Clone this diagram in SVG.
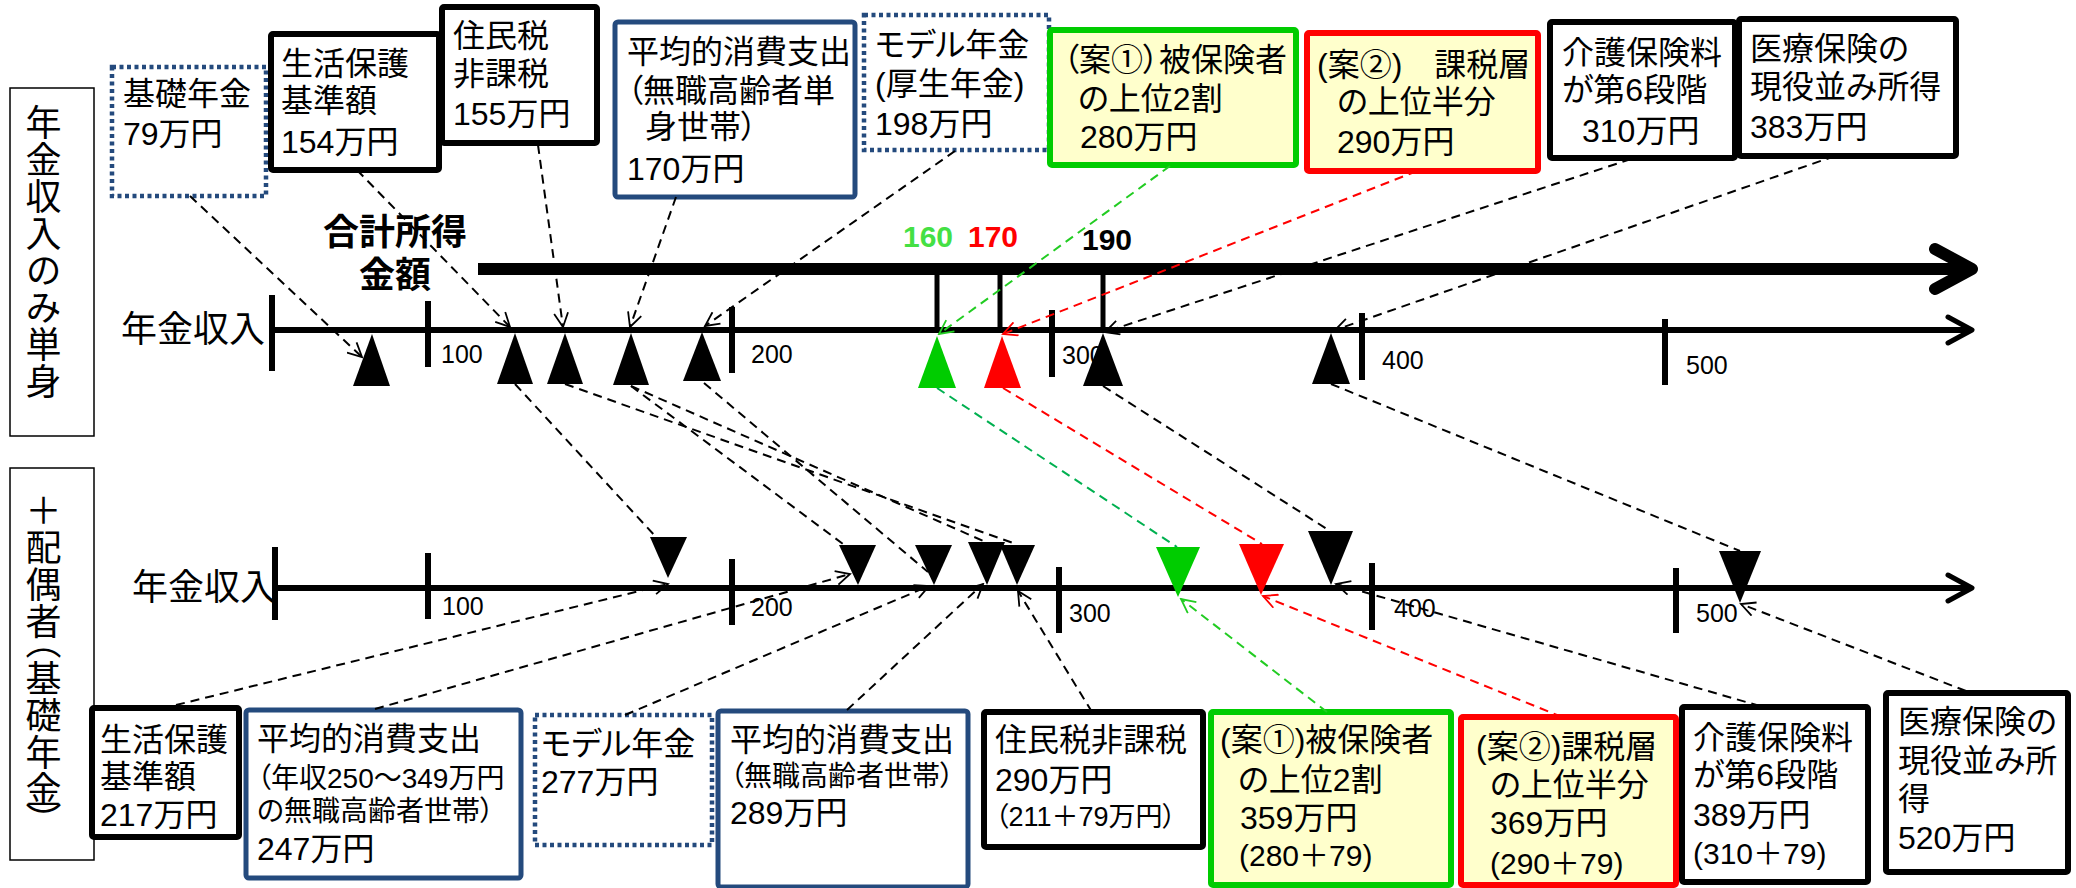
<svg xmlns="http://www.w3.org/2000/svg" width="2076" height="888" viewBox="0 0 2076 888">
<style>
text{font-family:'Liberation Sans','Noto Sans CJK JP',sans-serif;fill:#000;font-feature-settings:'palt';}
.t{font-size:32px;}
.s{font-size:28px;}
.n{font-size:25px;}
.v{font-size:36px;writing-mode:vertical-rl;letter-spacing:1px;}
.h{font-size:36px;}
.bd{font-size:36px;font-weight:bold;}
.num{font-size:30px;font-weight:bold;}
.lb{fill:#fff;stroke:#000;stroke-width:1.5;}
.bk{fill:#fff;stroke:#000;stroke-width:6;}
.bl{fill:#fff;stroke:#244A7D;stroke-width:5;}
.dt{fill:#fff;stroke:#244A7D;stroke-width:4.5;stroke-dasharray:4 3.5;}
.gr{fill:#FFFFCC;stroke:#00CC00;stroke-width:6;}
.rd{fill:#FFFFCC;stroke:#FF0000;stroke-width:6;}
.ax{stroke:#000;stroke-width:6;fill:none;}
.tk{stroke:#000;stroke-width:5;fill:none;}
.ch{stroke:#000;fill:none;stroke-width:5;stroke-linecap:round;stroke-linejoin:round;}
.c{fill:none;stroke:#000;stroke-width:2;stroke-dasharray:9 6;}
.cg{fill:none;stroke:#22CC22;stroke-width:2;stroke-dasharray:9 6;}
.cg2{fill:none;stroke:#00B050;stroke-width:2;stroke-dasharray:9 6;}
.cr{fill:none;stroke:#FF0000;stroke-width:2;stroke-dasharray:9 6;}
</style>
<defs>
<marker id="ak" markerWidth="18" markerHeight="16" refX="16" refY="8" orient="auto" markerUnits="userSpaceOnUse"><path d="M2,1 L16,8 L2,15" fill="none" stroke="#000" stroke-width="1.8"/></marker>
<marker id="ag" markerWidth="18" markerHeight="16" refX="16" refY="8" orient="auto" markerUnits="userSpaceOnUse"><path d="M2,1 L16,8 L2,15" fill="none" stroke="#22CC22" stroke-width="1.8"/></marker>
<marker id="ar" markerWidth="18" markerHeight="16" refX="16" refY="8" orient="auto" markerUnits="userSpaceOnUse"><path d="M2,1 L16,8 L2,15" fill="none" stroke="#FF0000" stroke-width="1.8"/></marker>
</defs>

<!-- side labels -->
<g id="label-single">
<rect class="lb" x="10" y="88" width="84" height="348"/>
<text class="v" x="40" y="104">年金収入のみ単身</text>
</g>
<g id="label-spouse">
<rect class="lb" x="10" y="468" width="84" height="392"/>
<text class="v" x="40" y="492">＋配偶<tspan style="letter-spacing:-16px">者</tspan>（基礎年<tspan style="letter-spacing:-5px">金</tspan>）</text>
</g>

<!-- axes -->
<g id="axis-total">
<line x1="478" y1="269" x2="1970" y2="269" stroke="#000" stroke-width="12"/>
<polyline points="1935,249 1972,269 1935,289" fill="none" stroke="#000" stroke-width="12" stroke-linecap="round" stroke-linejoin="round"/>
<text class="bd" x="395" y="245" text-anchor="middle">合計所得</text>
<text class="bd" x="395" y="288" text-anchor="middle">金額</text>
<line class="tk" x1="937" y1="269" x2="937" y2="333"/>
<line class="tk" x1="1000" y1="269" x2="1000" y2="333"/>
<line class="tk" x1="1103" y1="269" x2="1103" y2="333"/>
<text class="num" x="903" y="247" fill="#44E044" style="fill:#44E044">160</text>
<text class="num" x="968" y="247" style="fill:#FF0000">170</text>
<text class="num" x="1082" y="250">190</text>
</g>

<g id="axis-single">
<text class="h" x="265" y="342" text-anchor="end">年金収入</text>
<line class="ax" x1="272" y1="330" x2="1970" y2="330"/>
<polyline class="ch" points="1948,317 1972,330 1948,343"/>
<line class="ax" x1="272" y1="295" x2="272" y2="371"/>
<line class="ax" x1="428" y1="301" x2="428" y2="367"/>
<line class="ax" x1="732" y1="307" x2="732" y2="373"/>
<line class="ax" x1="1052" y1="310" x2="1052" y2="377"/>
<line class="ax" x1="1362" y1="313" x2="1362" y2="380"/>
<line class="ax" x1="1665" y1="319" x2="1665" y2="385"/>
<text class="n" x="441" y="363">100</text>
<text class="n" x="751" y="363">200</text>
<text class="n" x="1062" y="364">300</text>
<text class="n" x="1382" y="369">400</text>
<text class="n" x="1686" y="374">500</text>
</g>

<g id="axis-spouse">
<text class="h" x="276" y="600" text-anchor="end">年金収入</text>
<line class="ax" x1="275" y1="588" x2="1970" y2="588"/>
<polyline class="ch" points="1948,575 1972,588 1948,601"/>
<line class="ax" x1="275" y1="547" x2="275" y2="620"/>
<line class="ax" x1="428" y1="553" x2="428" y2="619"/>
<line class="ax" x1="732" y1="559" x2="732" y2="625"/>
<line class="ax" x1="1059" y1="567" x2="1059" y2="633"/>
<line class="ax" x1="1372" y1="563" x2="1372" y2="630"/>
<line class="ax" x1="1676" y1="568" x2="1676" y2="633"/>
<text class="n" x="442" y="615">100</text>
<text class="n" x="751" y="616">200</text>
<text class="n" x="1069" y="622">300</text>
<text class="n" x="1394" y="617">400</text>
<text class="n" x="1696" y="622">500</text>
</g>

<!-- markers on axes -->
<g id="marks-single">
<polygon points="372,334 353,386 390,386"/>
<polygon points="515,333 497,384 533,384"/>
<polygon points="565,333 547,384 583,384"/>
<polygon points="631,333 613,385 649,385"/>
<polygon points="702,332 683,381 721,381"/>
<polygon points="937,336 918,388 956,388" fill="#00CC00"/>
<polygon points="1002,336 984,388 1021,388" fill="#FF0000"/>
<polygon points="1103,333 1083,386 1123,386"/>
<polygon points="1331,333 1312,384 1350,384"/>
</g>
<g id="marks-spouse">
<polygon points="650,537 687,537 668,578"/>
<polygon points="839,545 876,545 858,585"/>
<polygon points="915,545 952,545 934,585"/>
<polygon points="968,542 1005,542 987,585"/>
<polygon points="1000,545 1035,545 1017,585"/>
<polygon points="1156,547 1200,547 1178,597" fill="#00CC00"/>
<polygon points="1239,544 1284,544 1261,595" fill="#FF0000"/>
<polygon points="1308,531 1353,531 1331,585"/>
<polygon points="1719,551 1761,551 1740,603"/>
</g>

<!-- top nodes -->
<g id="n-kiso79">
<rect class="dt" x="112" y="67" width="154" height="129"/>
<text class="t" x="123" y="105">基礎年金</text>
<text class="t" x="123" y="145">79万円</text>
</g>
<g id="n-seiho154">
<rect class="bk" x="271" y="34" width="168" height="136" rx="2"/>
<text class="t" x="281" y="75">生活保護</text>
<text class="t" x="281" y="112">基準額</text>
<text class="t" x="281" y="153">154万円</text>
</g>
<g id="n-jumin155">
<rect class="bk" x="442" y="7" width="155" height="136" rx="2"/>
<text class="t" x="453" y="47">住民税</text>
<text class="t" x="453" y="85">非課税</text>
<text class="t" x="453" y="125">155万円</text>
</g>
<g id="n-heikin170">
<rect class="bl" x="615" y="22" width="240" height="175" rx="3"/>
<text class="t" x="627" y="63">平均的消費支出</text>
<text class="t" x="627" y="102">（無職高齢者単</text>
<text class="t" x="645" y="138">身世帯）</text>
<text class="t" x="627" y="180">170万円</text>
</g>
<g id="n-model198">
<rect class="dt" x="864" y="15" width="185" height="135"/>
<text class="t" x="875" y="56">モデル年金</text>
<text class="t" x="875" y="95">(厚生年金)</text>
<text class="t" x="875" y="135">198万円</text>
</g>
<g id="n-an1-280">
<rect class="gr" x="1050" y="30" width="246" height="135" rx="2"/>
<text class="t" x="1063" y="71">（案①）被保険者</text>
<text class="t" x="1078" y="110">の上位2割</text>
<text class="t" x="1080" y="148">280万円</text>
</g>
<g id="n-an2-290">
<rect class="rd" x="1307" y="33" width="231" height="138" rx="2"/>
<text class="t" x="1317" y="76">(案②)　課税層</text>
<text class="t" x="1337" y="113">の上位半分</text>
<text class="t" x="1337" y="153">290万円</text>
</g>
<g id="n-kaigo310">
<rect class="bk" x="1550" y="22" width="185" height="136" rx="2"/>
<text class="t" x="1562" y="64">介護保険料</text>
<text class="t" x="1562" y="101">が第6段階</text>
<text class="t" x="1582" y="142">310万円</text>
</g>
<g id="n-iryo383">
<rect class="bk" x="1739" y="19" width="217" height="137" rx="2"/>
<text class="t" x="1750" y="60">医療保険の</text>
<text class="t" x="1750" y="98">現役並み所得</text>
<text class="t" x="1750" y="138">383万円</text>
</g>

<!-- bottom nodes -->
<g id="n-seiho217">
<rect class="bk" x="92" y="708" width="147" height="129" rx="2"/>
<text class="t" x="100" y="751">生活保護</text>
<text class="t" x="100" y="788">基準額</text>
<text class="t" x="100" y="826">217万円</text>
</g>
<g id="n-heikin247">
<rect class="bl" x="246" y="710" width="275" height="168" rx="3"/>
<text class="t" x="257" y="750">平均的消費支出</text>
<text class="s" x="257" y="788">（年収250～349万円</text>
<text class="s" x="257" y="821">の無職高齢者世帯）</text>
<text class="t" x="257" y="860">247万円</text>
</g>
<g id="n-model277">
<rect class="dt" x="535" y="715" width="177" height="130"/>
<text class="t" x="541" y="755">モデル年金</text>
<text class="t" x="541" y="793">277万円</text>
</g>
<g id="n-heikin289">
<rect class="bl" x="718" y="711" width="250" height="176" rx="3"/>
<text class="t" x="730" y="751">平均的消費支出</text>
<text class="s" x="730" y="786">（無職高齢者世帯）</text>
<text class="t" x="730" y="824">289万円</text>
</g>
<g id="n-jumin290">
<rect class="bk" x="984" y="712" width="219" height="135" rx="2"/>
<text class="t" x="995" y="751">住民税非課税</text>
<text class="t" x="995" y="791">290万円</text>
<text x="995" y="826" style="font-size:27px">（211＋79万円）</text>
</g>
<g id="n-an1-359">
<rect class="gr" x="1211" y="712" width="240" height="173" rx="2"/>
<text class="t" x="1220" y="751">(案①)被保険者</text>
<text class="t" x="1238" y="791">の上位2割</text>
<text class="t" x="1240" y="829">359万円</text>
<text x="1239" y="866" style="font-size:30px">(280＋79)</text>
</g>
<g id="n-an2-369">
<rect class="rd" x="1461" y="717" width="215" height="168" rx="2"/>
<text class="t" x="1476" y="758">(案②)課税層</text>
<text class="t" x="1490" y="796">の上位半分</text>
<text class="t" x="1490" y="834">369万円</text>
<text x="1490" y="874" style="font-size:30px">(290＋79)</text>
</g>
<g id="n-kaigo389">
<rect class="bk" x="1682" y="707" width="186" height="175" rx="2"/>
<text class="t" x="1693" y="749">介護保険料</text>
<text class="t" x="1693" y="786">が第6段階</text>
<text class="t" x="1693" y="826">389万円</text>
<text x="1693" y="864" style="font-size:30px">(310＋79)</text>
</g>
<g id="n-iryo520">
<rect class="bk" x="1886" y="693" width="182" height="179" rx="2"/>
<text class="t" x="1898" y="733">医療保険の</text>
<text class="t" x="1898" y="772">現役並み所</text>
<text class="t" x="1898" y="810">得</text>
<text class="t" x="1898" y="849">520万円</text>
</g>

<!-- connectors -->
<g id="connectors">
<line class="c" x1="190" y1="196" x2="362" y2="357" marker-end="url(#ak)"/>
<line class="c" x1="357" y1="170" x2="510" y2="327" marker-end="url(#ak)"/>
<line class="c" x1="538" y1="145" x2="563" y2="327" marker-end="url(#ak)"/>
<line class="c" x1="676" y1="197" x2="630" y2="327" marker-end="url(#ak)"/>
<line class="c" x1="955" y1="151" x2="705" y2="326" marker-end="url(#ak)"/>
<line class="cg" x1="1170" y1="166" x2="939" y2="334" marker-end="url(#ag)"/>
<line class="cr" x1="1417" y1="171" x2="1003" y2="334" marker-end="url(#ar)"/>
<line class="c" x1="1631" y1="159" x2="1105" y2="332" marker-end="url(#ak)"/>
<line class="c" x1="1835" y1="156" x2="1335" y2="330" marker-end="url(#ak)"/>

<line class="c" x1="515" y1="384" x2="656" y2="537"/>
<line class="c" x1="565" y1="384" x2="1013" y2="543"/>
<line class="c" x1="631" y1="386" x2="843" y2="544"/>
<line class="c" x1="631" y1="386" x2="988" y2="543"/>
<line class="c" x1="704" y1="383" x2="928" y2="572"/>
<line class="cg2" x1="937" y1="388" x2="1177" y2="547"/>
<line class="cr" x1="1003" y1="388" x2="1262" y2="544"/>
<line class="c" x1="1103" y1="386" x2="1330" y2="531"/>
<line class="c" x1="1331" y1="384" x2="1740" y2="551"/>

<line class="c" x1="176" y1="705" x2="668" y2="584" marker-end="url(#ak)"/>
<line class="c" x1="375" y1="709" x2="850" y2="574" marker-end="url(#ak)"/>
<line class="c" x1="625" y1="715" x2="929" y2="586" marker-end="url(#ak)"/>
<line class="c" x1="847" y1="710" x2="983" y2="584" marker-end="url(#ak)"/>
<line class="c" x1="1092" y1="712" x2="1018" y2="591" marker-end="url(#ak)"/>
<line class="cg" x1="1327" y1="712" x2="1181" y2="599" marker-end="url(#ag)"/>
<line class="cr" x1="1562" y1="717" x2="1263" y2="596" marker-end="url(#ar)"/>
<line class="c" x1="1760" y1="706" x2="1336" y2="584" marker-end="url(#ak)"/>
<line class="c" x1="1966" y1="691" x2="1741" y2="604" marker-end="url(#ak)"/>
</g>
</svg>
